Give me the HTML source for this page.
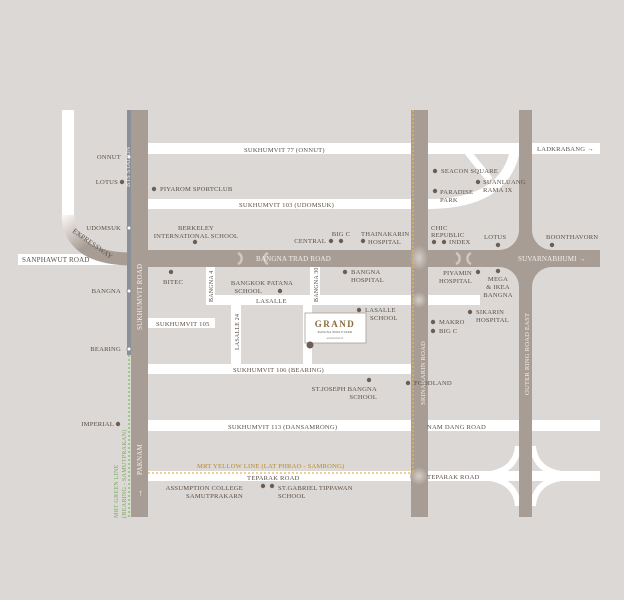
<!DOCTYPE html>
<html><head><meta charset="utf-8"><style>
html,body{margin:0;padding:0;background:#dcd8d5;}
svg{display:block}
text{font-family:"Liberation Serif",serif;font-size:6.6px;fill:#5a5048;letter-spacing:0.2px}
.w{fill:#fff}.t{fill:#a89d94}
.lt{fill:#f2efec;font-size:6.6px}
</style></head><body>
<svg width="624" height="600" viewBox="0 0 624 600">
<defs>
<linearGradient id="eg" x1="0" y1="0" x2="1" y2="1"><stop offset="0" stop-color="#f4f1ee"/><stop offset="0.5" stop-color="#a89d94"/></linearGradient>
<radialGradient id="sg"><stop offset="0" stop-color="#e8e3de"/><stop offset="1" stop-color="#a89d94"/></radialGradient>
</defs>
<rect width="624" height="600" fill="#dcd8d5"/>
<!-- white roads -->
<rect class="w" x="62" y="110" width="12" height="110"/>
<rect class="w" x="18" y="254" width="112" height="11"/>
<rect class="w" x="148" y="143" width="452" height="11"/>
<rect class="w" x="148" y="199" width="263" height="10"/>
<path d="M428,204 Q505,204 515,150" stroke="#fff" stroke-width="10" fill="none"/>
<path d="M466,150 L490,180" stroke="#fff" stroke-width="7" fill="none"/>
<rect class="w" x="206" y="267" width="9" height="38"/>
<rect class="w" x="310" y="267" width="10" height="30"/>
<rect class="w" x="215" y="295" width="265" height="10"/>
<rect class="w" x="148" y="318" width="67" height="10"/>
<rect class="w" x="231" y="305" width="10" height="60"/>
<rect class="w" x="303" y="305" width="9" height="60"/>
<rect class="w" x="148" y="364" width="263" height="10"/>
<rect class="w" x="148" y="420" width="452" height="11"/>
<rect class="w" x="148" y="471" width="452" height="10"/>
<!-- teparak interchange curves -->
<g stroke="#fff" stroke-width="6" fill="none">
<path d="M518,446 Q516,474 480,475"/>
<path d="M533,446 Q535,474 571,475"/>
<path d="M518,506 Q516,478 480,477"/>
<path d="M533,506 Q535,478 571,477"/>
</g>
<!-- expressway -->
<path d="M68,215 Q70,258 130,259" stroke="url(#eg)" stroke-width="13" fill="none"/>
<text transform="translate(72,232) rotate(35)" style="font-size:7px;fill:#5a5048">EXPRESSWAY</text>
<!-- tan roads -->
<rect class="t" x="131" y="110" width="17" height="407"/>
<rect class="t" x="148" y="250" width="452" height="17"/>
<rect class="t" x="411" y="110" width="17" height="407"/>
<rect class="t" x="519" y="110" width="13" height="407"/>
<!-- ring/bangna fillets -->
<rect class="t" x="499" y="230" width="53" height="57"/>
<circle cx="499" cy="230" r="20" fill="#dcd8d5"/>
<circle cx="552" cy="230" r="20" fill="#dcd8d5"/>
<circle cx="499" cy="287" r="20" fill="#dcd8d5"/>
<circle cx="552" cy="287" r="20" fill="#dcd8d5"/>
<rect class="t" x="519" y="225" width="13" height="70"/>
<rect class="t" x="490" y="250" width="70" height="17"/>
<!-- srinakarin shading -->
<ellipse cx="419" cy="258" rx="9" ry="13" fill="url(#sg)" opacity="0.7"/>
<ellipse cx="419" cy="300" rx="8" ry="8" fill="url(#sg)" opacity="0.7"/>
<ellipse cx="419" cy="476" rx="9" ry="9" fill="url(#sg)" opacity="0.7"/>
<!-- crescents -->
<path d="M238,253 a6,6 0 0 1 0,11" stroke="#cfc8c1" stroke-width="2.5" fill="none"/>
<path d="M268,253 a6,6 0 0 0 0,11" stroke="#cfc8c1" stroke-width="2.5" fill="none"/>
<path d="M456,253 a6,6 0 0 1 0,11" stroke="#cfc8c1" stroke-width="2.5" fill="none"/>
<path d="M471,253 a6,6 0 0 0 0,11" stroke="#cfc8c1" stroke-width="2.5" fill="none"/>
<!-- BTS -->
<rect x="127" y="110" width="4" height="245" fill="#8a8f98"/>
<line x1="129" y1="355" x2="129" y2="517" stroke="#7fc15e" stroke-width="1.3" stroke-dasharray="2,2"/>
<g fill="#fff" stroke="#8a8f98" stroke-width="1"><circle cx="129" cy="157" r="2"/><circle cx="129" cy="228" r="2"/><circle cx="129" cy="291" r="2"/><circle cx="129" cy="349" r="2"/></g>
<!-- yellow line -->
<line x1="413" y1="110" x2="413" y2="473" stroke="#e7b54a" stroke-width="1.3" stroke-dasharray="2,2"/>
<line x1="148" y1="473" x2="413" y2="473" stroke="#e7b54a" stroke-width="1.3" stroke-dasharray="2,2"/>
<!-- grand box -->
<rect x="305" y="313" width="61" height="30" fill="#fff" stroke="#a89d94" stroke-width="0.8"/>
<text x="335" y="327" text-anchor="middle" style="font-size:9px;fill:#8a6a3a;letter-spacing:1.5px;font-weight:bold">GRAND</text>
<text x="335" y="333" text-anchor="middle" style="font-size:3px;fill:#5a5048">BANGNA BOULEVARD</text>
<text x="335" y="339" text-anchor="middle" style="font-size:2.5px;fill:#5a5048">SUKHUMVIT</text>
<circle cx="310" cy="345" r="3.5" fill="#6a5e55"/>
<!-- dots -->
<g fill="#6a5e55">
<circle cx="122" cy="182" r="2.2"/><circle cx="154" cy="189" r="2.2"/><circle cx="195" cy="242" r="2.2"/>
<circle cx="331" cy="241" r="2.2"/><circle cx="341" cy="241" r="2.2"/><circle cx="363" cy="241" r="2.2"/>
<circle cx="171" cy="272" r="2.2"/><circle cx="280" cy="291" r="2.2"/><circle cx="345" cy="272" r="2.2"/>
<circle cx="359" cy="310" r="2.2"/><circle cx="435" cy="171" r="2.2"/><circle cx="478" cy="182" r="2.2"/>
<circle cx="435" cy="191" r="2.2"/><circle cx="434" cy="242" r="2.2"/><circle cx="444" cy="242" r="2.2"/>
<circle cx="498" cy="245" r="2.2"/><circle cx="552" cy="245" r="2.2"/><circle cx="478" cy="272" r="2.2"/>
<circle cx="498" cy="271" r="2.2"/><circle cx="470" cy="312" r="2.2"/><circle cx="433" cy="322" r="2.2"/>
<circle cx="433" cy="331" r="2.2"/><circle cx="369" cy="380" r="2.2"/><circle cx="408" cy="383" r="2.2"/>
<circle cx="118" cy="424" r="2.2"/><circle cx="263" cy="486" r="2.2"/><circle cx="272" cy="486" r="2.2"/>
</g>
<!-- labels -->
<text x="121" y="159" text-anchor="end">ONNUT</text>
<text x="118" y="184" text-anchor="end">LOTUS</text>
<text x="121" y="230" text-anchor="end">UDOMSUK</text>
<text x="121" y="293" text-anchor="end">BANGNA</text>
<text x="121" y="351" text-anchor="end">BEARING</text>
<text x="114" y="426" text-anchor="end">IMPERIAL</text>
<text x="22" y="262" style="font-size:7px">SANPHAWUT ROAD</text>
<text class="lt" transform="translate(130,187) rotate(-90)" style="font-size:6.2px">BTS STATION</text>
<text class="lt" transform="translate(142,330) rotate(-90)" style="font-size:7px">SUKHUMVIT ROAD</text>
<text class="lt" transform="translate(142,475) rotate(-90)" style="font-size:7px">PAKNAM</text>
<text transform="translate(142,498) rotate(-90)" class="lt" style="font-size:9px">→</text>
<text transform="translate(118,518) rotate(-90)" style="fill:#7aa860;font-size:6.2px">MRT GREEN LINE</text>
<text transform="translate(126,518) rotate(-90)" style="fill:#7aa860;font-size:6.2px">(BEARING - SAMUTPRAKAN)</text>
<text x="160" y="191">PIYAROM SPORTCLUB</text>
<text x="244" y="152">SUKHUMVIT 77  (ONNUT)</text>
<text x="239" y="207">SUKHUMVIT 103  (UDOMSUK)</text>
<text x="196" y="230" text-anchor="middle">BERKELEY</text>
<text x="196" y="238" text-anchor="middle">INTERNATIONAL SCHOOL</text>
<text x="326" y="243" text-anchor="end">CENTRAL</text>
<text x="341" y="236" text-anchor="middle">BIG C</text>
<text x="361" y="236">THAINAKARIN</text>
<text x="368" y="244">HOSPITAL</text>
<text class="lt" x="256" y="261" style="font-size:7px">BANGNA TRAD ROAD</text>
<text class="lt" x="518" y="261" style="font-size:7px">SUVARNABHUMI →</text>
<text x="163" y="284">BITEC</text>
<text x="262" y="285" text-anchor="middle">BANGKOK PATANA</text>
<text x="262" y="293" text-anchor="end">SCHOOL</text>
<text x="256" y="303">LASALLE</text>
<text transform="translate(213,302) rotate(-90)" style="font-size:6px">BANGNA 4</text>
<text transform="translate(318,302) rotate(-90)" style="font-size:6px">BANGNA 30</text>
<text transform="translate(239,350) rotate(-90)" style="font-size:6px">LASALLE 24</text>
<text x="156" y="326">SUKHUMVIT 105</text>
<text x="351" y="274">BANGNA</text>
<text x="351" y="282">HOSPITAL</text>
<text x="365" y="312">LASALLE</text>
<text x="370" y="320">SCHOOL</text>
<text x="233" y="372">SUKHUMVIT 106 (BEARING)</text>
<text x="377" y="391" text-anchor="end">ST.JOSEPH BANGNA</text>
<text x="377" y="399" text-anchor="end">SCHOOL</text>
<text x="414" y="385">FOODLAND</text>
<text x="228" y="429">SUKHUMVIT 113  (DANSAMRONG)</text>
<text x="427" y="429">NAM DANG ROAD</text>
<text x="197" y="468" style="fill:#b8882e">MRT YELLOW LINE (LAT PHRAO - SAMRONG)</text>
<text x="247" y="480">TEPARAK ROAD</text>
<text x="427" y="479">TEPARAK ROAD</text>
<text x="243" y="490" text-anchor="end">ASSUMPTION COLLEGE</text>
<text x="243" y="498" text-anchor="end">SAMUTPRAKARN</text>
<text x="278" y="490">ST.GABRIEL TIPPAWAN</text>
<text x="278" y="498">SCHOOL</text>
<text class="lt" transform="translate(425,405) rotate(-90)" style="font-size:6.6px">SRINAKARIN ROAD</text>
<text class="lt" transform="translate(529,395) rotate(-90)" style="font-size:6.6px">OUTER RING ROAD EAST</text>
<text x="441" y="173">SEACON SQUARE</text>
<text x="483" y="184">SUANLUANG</text>
<text x="483" y="192">RAMA IX</text>
<text x="440" y="194">PARADISE</text>
<text x="440" y="202">PARK</text>
<text x="431" y="230">CHIC</text>
<text x="431" y="237">REPUBLIC</text>
<text x="449" y="244">INDEX</text>
<text x="484" y="239">LOTUS</text>
<text x="546" y="239">BOONTHAVORN</text>
<text x="537" y="151">LADKRABANG →</text>
<text x="472" y="275" text-anchor="end">PIYAMIN</text>
<text x="472" y="283" text-anchor="end">HOSPITAL</text>
<text x="498" y="281" text-anchor="middle">MEGA</text>
<text x="498" y="289" text-anchor="middle">&amp; IKEA</text>
<text x="498" y="297" text-anchor="middle">BANGNA</text>
<text x="476" y="314">SIKARIN</text>
<text x="476" y="322">HOSPITAL</text>
<text x="439" y="324">MAKRO</text>
<text x="439" y="333">BIG C</text>
</svg>
</body></html>
